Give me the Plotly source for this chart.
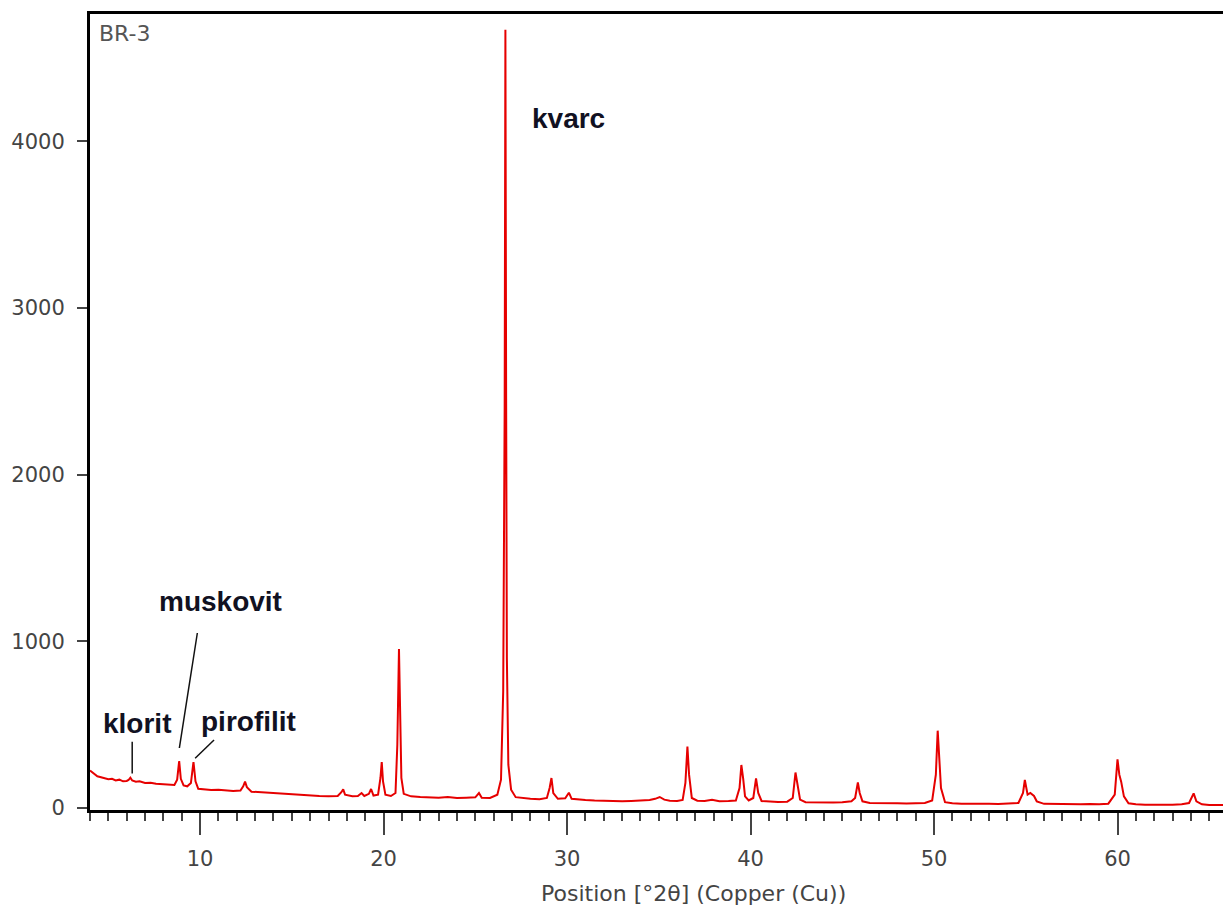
import plotly.graph_objects as go

# ---- data (2theta in degrees, counts) ----
two_theta = [4.0, 4.2, 4.4, 4.6, 4.8, 5.0, 5.2, 5.4, 5.6, 5.8, 6.0, 6.1, 6.2, 6.3, 6.5, 6.7, 7.0, 7.3, 7.6,
             8.0, 8.3, 8.6, 8.75, 8.86, 8.95, 9.1, 9.3, 9.5, 9.64, 9.75, 9.9, 10.2, 10.6, 11.0, 11.4, 11.8,
             12.2, 12.35, 12.45, 12.55, 12.8, 13.2, 13.6, 14.0, 14.5, 15.0, 15.5, 16.0, 16.5, 17.0, 17.5,
             17.7, 17.8, 17.9, 18.3, 18.6, 18.8, 18.95, 19.2, 19.32, 19.45, 19.7, 19.83, 19.9, 19.97, 20.1,
             20.4, 20.65, 20.75, 20.84, 20.9, 20.97, 21.1, 21.5, 22.0, 22.5, 23.0, 23.5, 24.0, 24.5, 25.0,
             25.2, 25.35, 25.8, 26.2, 26.4, 26.52, 26.6, 26.64, 26.68, 26.72, 26.8, 26.95, 27.2, 27.6, 28.0,
             28.5, 28.9, 29.05, 29.15, 29.25, 29.5, 29.9, 30.1, 30.25, 30.6, 31.0, 31.5, 32.0, 32.5, 33.0,
             33.5, 34.0, 34.5, 34.8, 35.05, 35.3, 35.6, 36.0, 36.3, 36.45, 36.56, 36.65, 36.8, 37.1, 37.5,
             37.9, 38.3, 38.8, 39.2, 39.4, 39.5, 39.6, 39.7, 39.9, 40.15, 40.3, 40.42, 40.6, 41.0, 41.5,
             42.0, 42.3, 42.45, 42.55, 42.7, 43.0, 43.5, 44.0, 44.5, 45.0, 45.5, 45.7, 45.85, 45.95, 46.1,
             46.5, 47.0, 47.5, 48.0, 48.5, 49.0, 49.5, 49.9, 50.1, 50.2, 50.28, 50.38, 50.6, 51.0, 51.5,
             52.0, 52.5, 53.0, 53.5, 54.0, 54.6, 54.85, 54.95, 55.1, 55.25, 55.45, 55.6, 56.0, 56.5, 57.0,
             57.5, 58.0, 58.5, 59.0, 59.5, 59.85, 60.0, 60.1, 60.2, 60.35, 60.6, 61.0, 61.5, 62.0, 62.5,
             63.0, 63.5, 63.9, 64.05, 64.15, 64.3, 64.6, 65.0, 65.5, 65.9]
counts = [225, 205, 190, 185, 178, 172, 175, 165, 170, 160, 162, 168, 182, 165, 158, 160, 150, 152, 145,
          142, 140, 138, 170, 282, 175, 135, 130, 150, 276, 160, 115, 112, 108, 110, 104, 102,
          105, 130, 158, 125, 98, 95, 92, 88, 85, 80, 78, 74, 72, 70, 72,
          95, 112, 80, 70, 72, 90, 72, 85, 114, 75, 80, 180, 276, 160, 80,
          72, 90, 380, 954, 520, 180, 85, 70, 66, 64, 62, 66, 60, 62, 64,
          90, 62, 60, 80, 170, 700, 2400, 4670, 2460, 900, 260, 110, 65, 58, 55,
          52, 60, 120, 180, 90, 55, 58, 92, 55, 50, 48, 45, 42, 40, 40,
          42, 44, 48, 55, 66, 50, 44, 42, 48, 150, 368, 200, 60, 44, 42,
          50, 40, 42, 45, 120, 258, 175, 70, 45, 60, 178, 90, 42, 38, 36,
          38, 60, 213, 150, 50, 35, 33, 32, 33, 34, 40, 60, 153, 90, 40,
          30, 28, 30, 28, 27, 28, 30, 45, 200, 464, 270, 120, 35, 28, 25,
          26, 24, 25, 24, 26, 30, 90, 168, 80, 90, 72, 40, 25, 24, 22,
          24, 23, 24, 22, 26, 80, 292, 200, 158, 70, 28, 22, 20, 22, 20,
          20, 22, 30, 60, 88, 40, 22, 18, 20, 18]

x_ticks = [10, 20, 30, 40, 50, 60]
y_ticks = [0, 1000, 2000, 3000, 4000]

sample_name = "BR-3"
x_title = "Position [°2θ] (Copper (Cu))"

# mineral labels: text, label position, leader line (start -> end), None if no leader
labels = ["kvarc", "muskovit", "klorit", "pirofilit"]
label_x = [30.1, 11.1, 6.55, 12.65]
label_y = [4140, 1237, 510, 520]
leader_x0 = [None, 9.85, 6.3, 10.76]
leader_y0 = [None, 1050, 397, 408]
leader_x1 = [None, 8.87, 6.3, 9.73]
leader_y1 = [None, 360, 207, 298]

W, H = 1223, 912
M_L, M_R, M_T, M_B = 90, 0, 14, 102

fig = go.Figure()
fig.add_trace(go.Scatter(
    x=two_theta, y=counts, mode="lines",
    line=dict(color="#e60000", width=2),
    showlegend=False, hoverinfo="skip"))

for t, lx, ly in zip(labels, label_x, label_y):
    fig.add_annotation(x=lx, y=ly, xref="x", yref="y", text="<b>" + t + "</b>", showarrow=False,
                       font=dict(family="Liberation Sans", size=28, color="#111122"),
                       xanchor="center", yanchor="middle")

for x0, y0, x1, y1 in zip(leader_x0, leader_y0, leader_x1, leader_y1):
    if x0 is None:
        continue
    fig.add_shape(type="line", x0=x0, y0=y0, x1=x1, y1=y1, xref="x", yref="y",
                  line=dict(color="#111111", width=1.5))

fig.add_annotation(x=0.006, y=0.994, xref="paper", yref="paper", text=sample_name,
                   showarrow=False, xanchor="left", yanchor="top",
                   font=dict(family="DejaVu Sans", size=22, color="#555555"))

fig.add_annotation(x=36.9, y=(H - M_B - 894) / (H - M_T - M_B), xref="x", yref="paper", text=x_title,
                   showarrow=False, xanchor="center", yanchor="middle",
                   font=dict(family="DejaVu Sans", size=22, color="#444444"))

fig.update_layout(
    width=W, height=H,
    margin=dict(l=M_L, r=M_R, t=M_T, b=M_B, autoexpand=False),
    paper_bgcolor="white", plot_bgcolor="white",
    font=dict(family="DejaVu Sans", size=21, color="#444444"),
)
fig.update_xaxes(
    range=[4.0, 65.75], tickvals=x_ticks, ticks="outside", ticklen=22, tickwidth=2,
    tickcolor="#444444", showline=True, linecolor="black", linewidth=3, mirror=True,
    showgrid=False, zeroline=False, automargin=False, ticklabelstandoff=6,
    minor=dict(dtick=1, ticks="outside", ticklen=8, tickwidth=2, tickcolor="#444444", showgrid=False),
)
fig.update_yaxes(
    range=[-12, 4764], tickvals=y_ticks, ticks="outside", ticklen=10, tickwidth=2,
    tickcolor="#444444", showline=True, linecolor="black", linewidth=3,
    showgrid=False, zeroline=False, automargin=False, ticklabelstandoff=8,
)

fig.write_html("out.html", config={"displayModeBar": False},
               post_script="document.body.style.margin='0';document.body.style.padding='0';")
